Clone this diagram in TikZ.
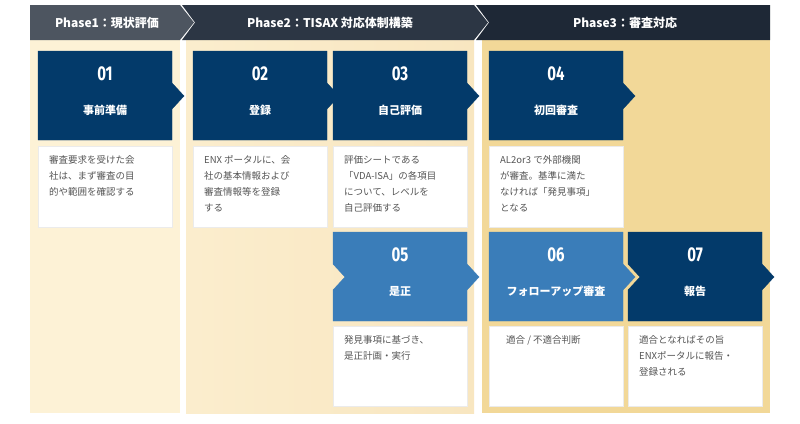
\documentclass[tikz,border=0pt]{standalone}
\usepackage{fontspec}
\setmainfont{Noto Sans CJK JP}
\newfontfamily\jpb{Noto Sans CJK JP}[FakeBold=0]
\newfontfamily\numf{Fira Sans}
\usetikzlibrary{shapes.geometric}
\definecolor{cream1}{HTML}{FDF2D6}
\definecolor{cream2}{HTML}{F8E6C0}
\definecolor{cream3}{HTML}{F2D898}
\definecolor{navy}{HTML}{033A6A}
\definecolor{bluec}{HTML}{3A7DB9}
\definecolor{ph1}{HTML}{4D5560}
\definecolor{ph2}{HTML}{2C3644}
\definecolor{ph3}{HTML}{1E2836}
\definecolor{txt}{HTML}{555555}
\tikzset{
 lbl/.style={text=white,font=\bfseries\fontsize{11}{13}\selectfont},
 num/.style={text=white,font=\numf\bfseries\fontsize{20}{22}\selectfont},
 desc/.style={text=txt,font=\fontsize{9.5}{16}\selectfont,align=left,anchor=north west,inner sep=0},
 tbox/.style={fill=white,draw=black!8},
 phase/.style={text=white,font=\bfseries\fontsize{12}{14}\selectfont}
}
\newcommand{\card}[6]{% x, y, color, notch(0/1), number, label
 \fill[#3,draw=#3] (#1,#2) -- (#1+134,#2) -- (#1+134,#2+32) -- (#1+146,#2+45) -- (#1+134,#2+58) -- (#1+134,#2+89) -- (#1,#2+89) -- (#1,#2+58) -- (#1+#4*12,#2+45) -- (#1,#2+32) -- cycle;
 \node[num] at (#1+67,#2+23) {\scalebox{0.75}[1]{#5}};
 \node[lbl] at (#1+67,#2+59) {#6};
}
\begin{document}
\begin{tikzpicture}[x=1pt,y=-1pt]
\useasboundingbox[fill=white] (0,0) rectangle (800,423);
% backgrounds
\fill[cream1] (30,40) rectangle (180,413);
\shade[left color=cream1!60!cream2,right color=cream2] (186,40) rectangle (474,413);
\fill[cream3] (482,40) rectangle (770,413);
% phase headers
\fill[ph3] (476,5) -- (770,5) -- (770,40) -- (476,40) -- (489,22.5) -- cycle;
\fill[ph2] (182,5) -- (474,5) -- (488,22.5) -- (474,40) -- (182,40) -- (195,22.5) -- cycle;
\fill[ph1] (30,5) -- (180,5) -- (194,22.5) -- (180,40) -- (30,40) -- cycle;
\node[phase] (p1) at (107,22.5) {Phase1：現状評価};
\node[phase] (p2) at (330,22.5) {Phase2：TISAX 対応体制構築};
\node[phase] (p3) at (625,22.5) {Phase3：審査対応};
% cards
\card{38}{51}{navy}{0}{01}{事前準備}
\card{193}{51}{navy}{0}{02}{登録}
\card{489}{51}{navy}{0}{04}{初回審査}
\card{628}{232}{navy}{1}{07}{報告}
\card{489}{232}{bluec}{0}{06}{フォローアップ審査}
\card{333}{51}{navy}{0}{03}{自己評価}
\card{333}{232}{bluec}{1}{05}{是正}
% text boxes
\foreach \x/\y in {38/146,193/146,333/146,489/146,333/326,489/326,628/326}
  \fill[tbox] (\x,\y) rectangle (\x+134,\y+\ifnum\y=146 81\else 80\fi);
\node[desc] (t1) at (49,155) {審査要求を受けた会\\社は、まず審査の目\\的や範囲を確認する};
\node[desc] (t2) at (204,155) {ENX ポータルに、会\\社の基本情報および\\審査情報等を登録\\する};
\node[desc] (t3) at (344,155) {評価シートである\\「VDA-ISA」の各項目\\について、レベルを\\自己評価する};
\node[desc] (t4) at (500,155) {AL2or3 で外部機関\\が審査。基準に満た\\なければ「発見事項」\\となる};
\node[desc] (t5) at (344,335) {発見事項に基づき、\\是正計画・実行};
\node[desc] (t6) at (506,335) {適合 / 不適合判断};
\node[desc] (t7) at (639,335) {適合となればその旨\\ENXポータルに報告・\\登録される};
\end{tikzpicture}
\end{document}
